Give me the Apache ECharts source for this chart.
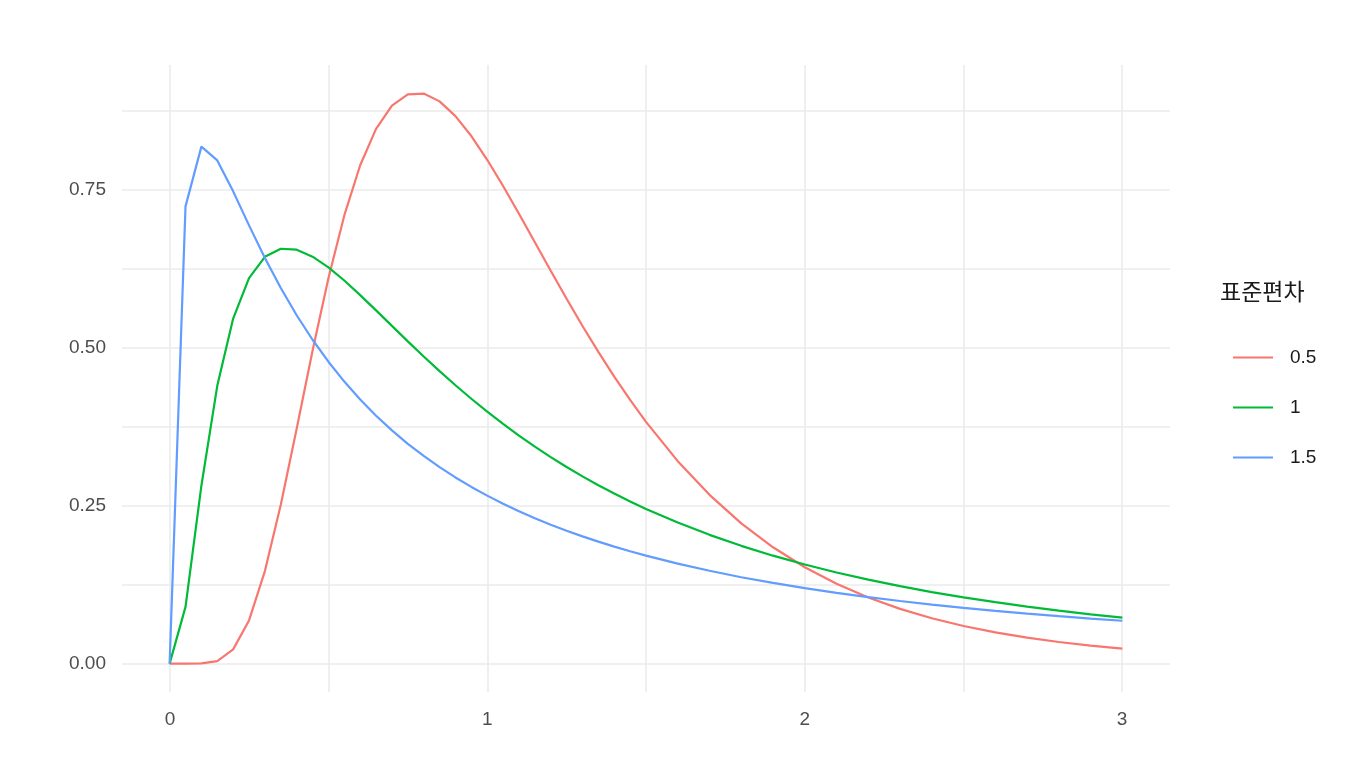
<!DOCTYPE html>
<html><head><meta charset="utf-8">
<script src="https://cdn.jsdelivr.net/npm/echarts@6/dist/echarts.min.js"></script>
<style>html,body{margin:0;background:#fff}#c{width:1360px;height:784px}</style>
</head><body><div id="c"></div>
<script>
const xs = [0,0.05,0.1,0.15,0.2,0.25,0.3,0.35,0.4,0.45,0.5,0.55,0.6,0.65,0.7,0.75,0.8,0.85,0.9,0.95,1.0,1.05,1.1,1.15,1.2,1.25,1.3,1.35,1.4,1.45,1.5,1.6,1.7,1.8,1.9,2.0,2.1,2.2,2.3,2.4,2.5,2.6,2.7,2.8,2.9,3.0];
const sd05 = [0,0,0.0002,0.0040,0.0225,0.0683,0.1465,0.2514,0.3720,0.4954,0.6104,0.7098,0.7892,0.8469,0.8838,0.9015,0.9028,0.8904,0.8671,0.8355,0.7979,0.7563,0.7123,0.6672,0.6221,0.5778,0.5347,0.4936,0.4544,0.4175,0.3828,0.3206,0.2673,0.2221,0.1842,0.1526,0.1264,0.1046,0.0866,0.0718,0.0595,0.0494,0.0411,0.0342,0.0285,0.0238];
const sd1 = [0,0.0898,0.2817,0.4399,0.5464,0.6104,0.6442,0.6570,0.6555,0.6445,0.6275,0.6067,0.5836,0.5594,0.5348,0.5103,0.4864,0.4632,0.4408,0.4194,0.3989,0.3795,0.3610,0.3435,0.3270,0.3113,0.2965,0.2825,0.2693,0.2568,0.2450,0.2233,0.2039,0.1865,0.1709,0.1569,0.1443,0.1329,0.1226,0.1133,0.1049,0.0972,0.0902,0.0839,0.0780,0.0727];
const sd15 = [0,0.7241,0.8187,0.7969,0.7479,0.6940,0.6424,0.5948,0.5517,0.5129,0.4781,0.4466,0.4183,0.3926,0.3694,0.3481,0.3288,0.3111,0.2948,0.2798,0.2660,0.2532,0.2413,0.2303,0.2200,0.2104,0.2015,0.1931,0.1853,0.1779,0.1710,0.1583,0.1470,0.1368,0.1277,0.1195,0.1121,0.1053,0.0991,0.0935,0.0883,0.0835,0.0791,0.0751,0.0713,0.0678];
const seriesNames = ['0.5','1','1.5'];
const colors = ['#F8766D','#00BA38','#619CFF'];
const legendTitle = '표준편차';
const yTicks = [0,0.25,0.5,0.75];
const xTicks = [0,1,2,3];

const chart = echarts.init(document.getElementById('c'));
const gridColor = ['#ebebeb'];
const font = 'Liberation Sans, Arial, sans-serif';
const mk = (ys) => xs.map((x,i)=>[x,ys[i]]);
chart.setOption({
  animation:false,
  grid:[
    {left:122,right:190,top:65,bottom:92},
    {left:170,right:238,top:65,bottom:92},
    {left:122,right:190,top:111,bottom:120}
  ],
  xAxis:[
    {gridIndex:0,type:'value',min:-0.15,max:3.15,show:false,splitLine:{show:false}},
    {gridIndex:1,type:'value',min:0,max:3,interval:0.5,axisLine:{show:false},axisTick:{show:false},
     splitLine:{show:true,lineStyle:{color:gridColor,width:1.6}},
     axisLabel:{margin:18,color:'#4d4d4d',fontSize:19,fontFamily:font,
       formatter:v=>xTicks.includes(v)?String(v):''}},
    {gridIndex:2,type:'value',min:0,max:1,show:false,splitLine:{show:false}}
  ],
  yAxis:[
    {gridIndex:0,type:'value',min:-0.045,max:0.948,show:false,splitLine:{show:false}},
    {gridIndex:1,type:'value',min:0,max:1,show:false,splitLine:{show:false}},
    {gridIndex:2,type:'value',min:0,max:0.875,interval:0.125,axisLine:{show:false},axisTick:{show:false},
     splitLine:{show:true,lineStyle:{color:gridColor,width:1.6}},
     axisLabel:{margin:16,color:'#4d4d4d',fontSize:19,fontFamily:font,
       formatter:v=>yTicks.some(t=>Math.abs(t-v)<1e-9)?v.toFixed(2):''}}
  ],
  legend:{orient:'vertical',left:1228,top:343,itemWidth:40,itemHeight:2,itemGap:31,icon:'rect',
    textStyle:{fontSize:19,color:'#1a1a1a',fontFamily:font,padding:[0,0,0,12]},data:seriesNames},
  graphic:[{type:'text',left:1220,top:280,style:{text:legendTitle,fontSize:23,fill:'#1a1a1a',fontFamily:'Noto Sans CJK KR'}}],
  series:[sd05,sd1,sd15].map((d,i)=>({
    name:seriesNames[i],type:'line',xAxisIndex:0,yAxisIndex:0,data:mk(d),
    showSymbol:false,symbol:'none',smooth:false,color:colors[i],lineStyle:{width:2.2,color:colors[i]}
  }))
});
</script></body></html>
